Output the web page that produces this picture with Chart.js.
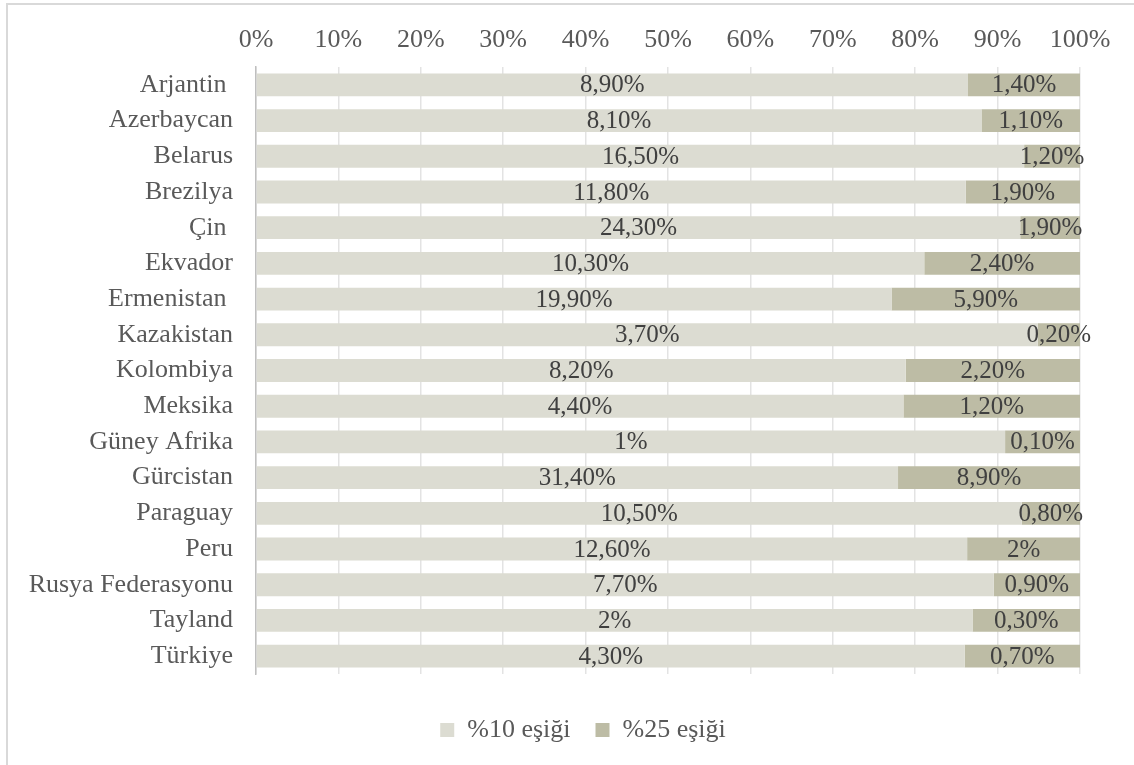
<!DOCTYPE html>
<html lang="tr">
<head>
<meta charset="utf-8">
<title>%10 ve %25 eşiği</title>
<script src="https://cdn.jsdelivr.net/npm/chart.js@4.4.1/dist/chart.umd.min.js"></script>
<style>
  html, body { margin: 0; padding: 0; background: #ffffff; overflow: hidden; }
  #wrap { position: relative; width: 1134px; height: 765px; overflow: hidden; }
  #frame { position: absolute; left: 6px; top: 3px; width: 1150px; height: 800px;
           border: 2px solid #d9d9d9; box-sizing: border-box; pointer-events: none; }
  canvas { position: absolute; left: 0; top: 0; }
</style>
</head>
<body>
<div id="wrap">
  <canvas id="chart" width="1134" height="765"></canvas>
  <div id="frame"></div>
</div>
<script>
// Countries shown on the vertical axis
const countries = [
  'Arjantin ', 'Azerbaycan', 'Belarus', 'Brezilya', 'Çin ', 'Ekvador', 'Ermenistan ',
  'Kazakistan', 'Kolombiya', 'Meksika', 'Güney Afrika', 'Gürcistan', 'Paraguay',
  'Peru', 'Rusya Federasyonu', 'Tayland', 'Türkiye'
];

// Share of firms above each threshold (%)
const threshold10 = [8.9, 8.1, 16.5, 11.8, 24.3, 10.3, 19.9, 3.7, 8.2, 4.4, 1, 31.4, 10.5, 12.6, 7.7, 2, 4.3];
const threshold25 = [1.4, 1.1, 1.2, 1.9, 1.9, 2.4, 5.9, 0.2, 2.2, 1.2, 0.1, 8.9, 0.8, 2, 0.9, 0.3, 0.7];

// Series names
const seriesNames = ['%10 eşiği', '%25 eşiği'];

// Percent axis ticks
const axisTicks = [0, 10, 20, 30, 40, 50, 60, 70, 80, 90, 100];

const FONT = 'Liberation Serif, "Times New Roman", serif';

// Each bar is stacked to 100%: shares of the row total
const rowTotals = threshold10.map((v, i) => v + threshold25[i]);
const share10 = threshold10.map((v, i) => v / rowTotals[i] * 100);
const share25 = threshold25.map((v, i) => v / rowTotals[i] * 100);
const rawValues = [threshold10, threshold25];

function formatTr(v) {
  return Number.isInteger(v) ? v + '%' : v.toFixed(2).replace('.', ',') + '%';
}

// Value labels centred on each segment
const segmentLabels = {
  id: 'segmentLabels',
  afterDatasetsDraw(chart) {
    const ctx = chart.ctx;
    ctx.save();
    ctx.font = '25px ' + FONT;
    ctx.fillStyle = '#404040';
    ctx.textAlign = 'center';
    ctx.textBaseline = 'middle';
    chart.data.datasets.forEach((ds, di) => {
      const meta = chart.getDatasetMeta(di);
      meta.data.forEach((bar, i) => {
        const p = bar.getProps(['x', 'y', 'base'], true);
        ctx.fillText(formatTr(rawValues[di][i]), (p.x + p.base) / 2, p.y + 1);
      });
    });
    ctx.restore();
  }
};

// Centre the legend under the label column + plot block
const legendSpan = {
  id: 'legendSpan',
  afterLayout(chart) {
    const lg = chart.legend;
    if (lg) {
      lg.left = 86;
      lg.width = lg.right - lg.left;
    }
  }
};

new Chart(document.getElementById('chart'), {
  type: 'bar',
  data: {
    labels: countries,
    datasets: [
      { label: seriesNames[0], data: share10, backgroundColor: '#dcdcd2' },
      { label: seriesNames[1], data: share25, backgroundColor: '#bdbca5' }
    ]
  },
  options: {
    indexAxis: 'y',
    responsive: false,
    animation: false,
    events: [],
    layout: { padding: { left: 0, right: 54, top: 0, bottom: 12 } },
    datasets: { bar: { barPercentage: 0.64, categoryPercentage: 1 } },
    scales: {
      x: {
        position: 'top',
        stacked: true,
        min: 0,
        max: 100,
        afterBuildTicks(scale) { scale.ticks = axisTicks.map(v => ({ value: v })); },
        afterFit(scale) { scale.height = 67; },
        ticks: {
          color: '#595959',
          font: { family: FONT, size: 26 },
          padding: 11,
          maxRotation: 0,
          callback: v => v + '%'
        },
        grid: { color: '#e3e3e3', lineWidth: 1.5, drawTicks: false },
        border: { display: false }
      },
      y: {
        stacked: true,
        afterFit(scale) { scale.width = 256; },
        ticks: {
          color: '#595959',
          font: { family: FONT, size: 26 },
          padding: 23,
          autoSkip: false
        },
        grid: { display: false, drawTicks: false },
        border: { display: true, color: '#bfbfbf', width: 1.5 }
      }
    },
    plugins: {
      tooltip: { enabled: false },
      legend: {
        position: 'bottom',
        title: { display: true, text: '', font: { size: 10 }, padding: { top: 6, bottom: 0 } },
        labels: {
          color: '#595959',
          font: { family: FONT, size: 26 },
          boxWidth: 14,
          boxHeight: 14,
          padding: 25
        }
      }
    }
  },
  plugins: [segmentLabels, legendSpan]
});
</script>
</body>
</html>
